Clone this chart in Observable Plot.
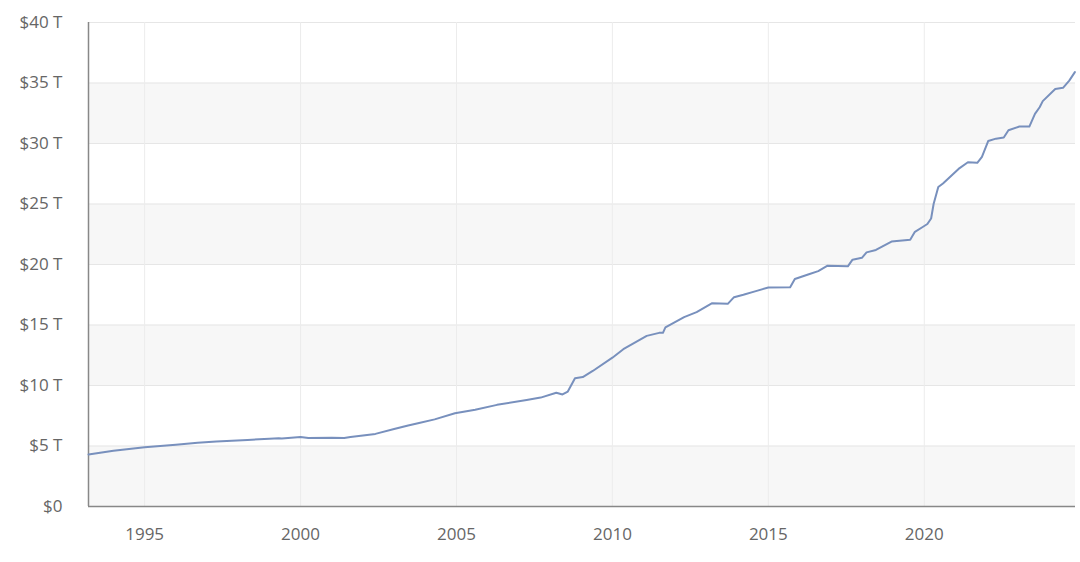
<!DOCTYPE html>
<html>
<head>
<meta charset="utf-8">
<script src="https://cdn.jsdelivr.net/npm/d3@7"></script>
<script src="https://cdn.jsdelivr.net/npm/@observablehq/plot@0.6"></script>
<style>
  html, body { margin: 0; padding: 0; background: #fff; }
  #chart svg { display: block; }
</style>
</head>
<body>
<div id="chart"></div>
<script>
// Time (decimal year) and total public debt (trillions USD)
const years = [1993.2, 1994.0, 1995.0, 1996.0, 1996.7, 1997.3, 1998.3, 1999.0, 1999.3, 1999.4, 2000.0, 2000.25, 2001.0, 2001.4, 2001.6,
  2002.4, 2003.0, 2003.45, 2003.8, 2004.3, 2004.95, 2005.6, 2006.3, 2007.25, 2007.7, 2008.2, 2008.4, 2008.57, 2008.8, 2009.05, 2009.37,
  2010.0, 2010.35, 2011.1, 2011.5, 2011.62, 2011.7, 2012.3, 2012.7, 2013.2, 2013.7, 2013.9, 2014.2, 2014.6, 2015.0, 2015.7,
  2015.85, 2016.3, 2016.6, 2016.9, 2017.55, 2017.7, 2018.0, 2018.15, 2018.45, 2018.95, 2019.55, 2019.7, 2019.95, 2020.1, 2020.22,
  2020.3, 2020.45, 2020.6, 2021.1, 2021.4, 2021.7, 2021.85, 2022.05, 2022.3, 2022.55, 2022.7, 2023.05, 2023.37, 2023.55, 2023.7,
  2023.8, 2024.2, 2024.45, 2024.65, 2024.83];
const debt = [4.3, 4.6, 4.9, 5.1, 5.26, 5.38, 5.5, 5.6, 5.65, 5.62, 5.75, 5.66, 5.68, 5.66, 5.75,
  6.0, 6.4, 6.7, 6.9, 7.2, 7.7, 8.0, 8.4, 8.8, 9.0, 9.4, 9.26, 9.5, 10.6, 10.7, 11.2,
  12.3, 13.0, 14.1, 14.35, 14.35, 14.8, 15.65, 16.06, 16.8, 16.75, 17.3, 17.5, 17.8, 18.1, 18.12,
  18.8, 19.2, 19.45, 19.9, 19.85, 20.4, 20.55, 21.0, 21.2, 21.9, 22.05, 22.7, 23.1, 23.35, 23.8,
  25.0, 26.4, 26.7, 27.9, 28.45, 28.4, 28.9, 30.2, 30.4, 30.5, 31.1, 31.4, 31.4, 32.45, 33.0,
  33.5, 34.5, 34.6, 35.2, 35.9];

const yTicks = [0, 5, 10, 15, 20, 25, 30, 35, 40];
const xTicks = [1995, 2000, 2005, 2010, 2015, 2020];
const bandStarts = [0, 10, 20, 30];

const series = years.map((t, i) => ({t, v: debt[i]}));
const bands = bandStarts.map(b => ({y1: b, y2: b + 5}));
const yFmt = d => d === 0 ? "$0" : `$${d} T`;

const chart = Plot.plot({
  width: 1080,
  height: 562,
  marginLeft: 88,
  marginRight: 5,
  marginTop: 22,
  marginBottom: 56,
  style: {fontFamily: "'Open Sans', sans-serif", fontSize: "17px", color: "#666", background: "#fff"},
  x: {domain: [1993.2, 2024.85], label: null},
  y: {domain: [0, 40], label: null},
  marks: [
    Plot.rectY(bands, {x1: 1993.2, x2: 2024.85, y1: "y1", y2: "y2", fill: "#f7f7f7"}),
    Plot.gridY(yTicks, {stroke: "#e6e6e6", strokeOpacity: 1, strokeWidth: 1}),
    Plot.gridX(xTicks, {stroke: "#ececec", strokeOpacity: 1, strokeWidth: 1}),
    Plot.axisY({ticks: yTicks, tickFormat: yFmt, tickSize: 0, tickPadding: 26, fill: "#666", fontSize: 17}),
    Plot.axisX({ticks: xTicks, tickFormat: d => String(d), tickSize: 0, tickPadding: 21, fill: "#666", fontSize: 17}),
    Plot.ruleX([1993.2], {stroke: "#888", strokeWidth: 1.5}),
    Plot.ruleY([0], {stroke: "#888", strokeWidth: 1.5}),
    Plot.line(series, {x: "t", y: "v", stroke: "#7890bd", strokeWidth: 2, curve: "linear"})
  ]
});
document.getElementById("chart").appendChild(chart);
</script>
</body>
</html>
